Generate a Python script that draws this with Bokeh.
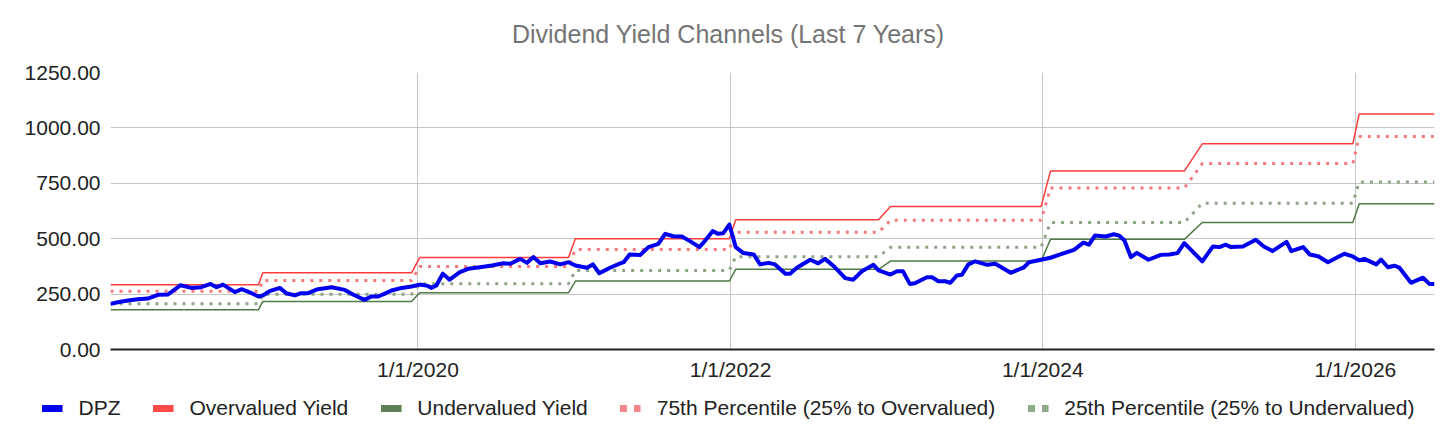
import pandas as pd
from bokeh.plotting import figure
from bokeh.layouts import column
from bokeh.models import (ColumnDataSource, Range1d, FixedTicker, NumeralTickFormatter,
                          CustomJSTickFormatter, Legend, LegendItem, Label)
from bokeh.embed import file_html
from bokeh.resources import INLINE

# ---------------- data ----------------
dpz_dates = [
    "2018-01-12", "2018-01-29", "2018-02-22", "2018-03-17", "2018-04-09", "2018-05-03",
    "2018-05-26", "2018-06-25", "2018-07-20", "2018-08-12", "2018-09-03", "2018-09-17",
    "2018-10-02", "2018-10-30", "2018-11-14", "2018-12-08", "2018-12-24",
    "2019-01-03", "2019-01-19", "2019-02-12", "2019-02-27", "2019-03-19", "2019-04-03",
    "2019-04-19", "2019-05-12", "2019-06-13", "2019-07-14", "2019-08-02", "2019-08-29",
    "2019-09-14", "2019-09-30", "2019-10-31", "2019-11-24", "2019-12-17",
    "2020-01-05", "2020-01-24", "2020-02-01", "2020-02-13", "2020-02-28", "2020-03-15",
    "2020-04-08", "2020-04-27", "2020-05-25", "2020-06-22", "2020-07-19", "2020-08-04",
    "2020-08-27", "2020-09-12", "2020-09-27", "2020-10-13", "2020-11-05", "2020-11-29",
    "2020-12-18",
    "2021-01-03", "2021-01-30", "2021-02-13", "2021-02-28", "2021-03-25", "2021-04-18",
    "2021-04-26", "2021-05-10", "2021-06-04", "2021-06-23", "2021-07-16", "2021-08-01",
    "2021-08-20", "2021-09-09", "2021-09-28", "2021-10-20", "2021-11-04", "2021-11-20",
    "2021-12-03", "2021-12-15", "2021-12-29",
    "2022-01-13", "2022-01-31", "2022-02-24", "2022-03-11", "2022-03-31", "2022-04-15",
    "2022-05-09", "2022-05-20", "2022-06-05", "2022-07-06", "2022-07-25", "2022-08-10",
    "2022-09-02", "2022-09-26", "2022-10-15", "2022-11-04", "2022-12-01", "2022-12-13",
    "2023-01-10", "2023-01-25", "2023-02-08", "2023-02-24", "2023-03-08", "2023-04-05",
    "2023-04-17", "2023-05-02", "2023-05-18", "2023-05-30", "2023-06-14", "2023-06-26",
    "2023-07-11", "2023-07-27", "2023-08-24", "2023-09-12", "2023-10-18", "2023-11-18",
    "2023-11-30", "2023-12-28",
    "2024-01-19", "2024-02-11", "2024-03-14", "2024-04-05", "2024-04-18", "2024-05-02",
    "2024-05-27", "2024-06-15", "2024-06-28", "2024-07-10", "2024-07-25", "2024-08-08",
    "2024-09-04", "2024-10-03", "2024-10-23", "2024-11-11", "2024-11-27",
    "2025-01-08", "2025-02-02", "2025-02-17", "2025-03-04", "2025-03-16", "2025-04-13",
    "2025-05-13", "2025-06-01", "2025-06-21", "2025-07-24", "2025-08-04", "2025-09-01",
    "2025-09-16", "2025-10-06", "2025-10-29", "2025-12-06", "2025-12-26",
    "2026-01-10", "2026-01-22", "2026-02-19", "2026-03-02", "2026-03-18", "2026-04-02",
    "2026-04-14", "2026-05-11", "2026-06-08", "2026-06-23", "2026-07-05",
]
dpz_values = [
    206, 213, 221, 227, 230, 247,
    248, 290, 278, 281, 296, 281,
    293, 259, 272, 254, 239,
    244, 263, 278, 254, 244, 254,
    254, 272, 281, 269, 248, 224,
    239, 239, 266, 278, 284,
    293, 287, 278, 289, 342, 315,
    349, 364, 371, 379, 389, 387,
    409, 391, 417, 389, 397, 384,
    394,
    379, 369, 384, 344, 369, 389,
    394, 429, 427, 462, 477, 522,
    511, 510, 489, 462, 495, 534,
    522, 525, 564,
    462, 435, 429, 384, 391, 384,
    342, 342, 369, 405, 389, 409,
    371, 322, 315, 353, 382, 357,
    338, 353, 353, 296, 299, 326,
    326, 308, 308, 301, 334, 337,
    384, 398, 382, 387, 346, 371,
    394, 405,
    414, 429, 450, 482, 473, 514,
    510, 520, 514, 492, 417, 436,
    405, 427, 429, 435, 480,
    398, 465, 462, 473, 462, 465,
    495, 465, 444, 486, 444, 462,
    429, 421, 394, 432, 420,
    402, 409, 384, 406, 371, 378,
    369, 301, 324, 296, 296,
]

band_years = [2018, 2019, 2020, 2021, 2022, 2023, 2024, 2025, 2026]
overvalued = [292, 346, 415, 500, 585, 645, 805, 928, 1063]
pct75 = [263, 311, 375, 451, 529, 583, 729, 839, 961]
pct25 = [207, 249, 297, 357, 419, 461, 573, 660, 756]
undervalued = [179, 217, 256, 309, 362, 399, 497, 573, 658]

x_tick_dates = ["2020-01-01", "2022-01-01", "2024-01-01", "2026-01-01"]
x_tick_labels = ["1/1/2020", "1/1/2022", "1/1/2024", "1/1/2026"]
y_ticks = [0, 250, 500, 750, 1000, 1250]

chart_title = "Dividend Yield Channels (Last 7 Years)"
series_names = ["DPZ", "Overvalued Yield", "Undervalued Yield",
                "75th Percentile (25% to Overvalued)", "25th Percentile (25% to Undervalued)"]

# ---------------- build ----------------
dates = pd.to_datetime(dpz_dates)
yrs = list(dates.year)


def band(vals):
    m = dict(zip(band_years, vals))
    return [m[y] for y in yrs]


src = ColumnDataSource(dict(
    date=dates, dpz=dpz_values, over=band(overvalued), under=band(undervalued),
    p75=band(pct75), p25=band(pct25)))

FONT = "Liberation Sans"
FS = "21px"
W = 1456


def strip(h):
    f = figure(width=W, height=h, output_backend="svg", toolbar_location=None,
               x_range=Range1d(0, W), y_range=Range1d(0, h),
               x_axis_location=None, y_axis_location=None,
               min_border_left=0, min_border_right=0, min_border_top=0, min_border_bottom=0)
    f.outline_line_color = None
    f.xgrid.visible = False
    f.ygrid.visible = False
    f.frame_align = False
    return f


# ---------------- title strip ----------------
tf = strip(60)
tf.add_layout(Label(x=W / 2, y=27, text=chart_title, text_align="center",
                    text_baseline="middle", text_font=FONT, text_font_size="25px",
                    text_color="#757575"))

# ---------------- main chart ----------------
p = figure(width=W, height=336, x_axis_type="datetime",
           output_backend="svg", toolbar_location=None,
           x_range=Range1d(dates[0], dates[-1]), y_range=Range1d(0, 1250),
           min_border_left=110, min_border_right=22, min_border_top=12, min_border_bottom=47)
p.frame_align = False
p.outline_line_color = None

C_DPZ = "#0000ee"
C_OVER = "#ff3b3b"
C_UNDER = "#507a46"
C_P75 = "#f47a7d"
C_P25 = "#8ea488"

p.line("date", "p25", source=src, line_color=C_P25, line_width=3, line_dash="3 6")
p.line("date", "p75", source=src, line_color=C_P75, line_width=3, line_dash="3 6")
p.line("date", "under", source=src, line_color=C_UNDER, line_width=1.5)
p.line("date", "over", source=src, line_color=C_OVER, line_width=1.5)
p.line("date", "dpz", source=src, line_color=C_DPZ, line_width=4, line_join="round")

tick_ms = [pd.Timestamp(d).value / 1e6 for d in x_tick_dates]
p.xaxis.ticker = FixedTicker(ticks=tick_ms)
p.xaxis.formatter = CustomJSTickFormatter(
    args=dict(tvals=tick_ms, tlabels=x_tick_labels),
    code="""
    for (let i = 0; i < tvals.length; i++) {
        if (Math.abs(tvals[i] - tick) < 1) { return tlabels[i]; }
    }
    return '';
    """)
p.xaxis.axis_line_color = "#222222"
p.xaxis.axis_line_width = 2
p.xaxis.major_tick_line_color = None
p.xaxis.minor_tick_line_color = None
p.xaxis.major_label_text_font = FONT
p.xaxis.major_label_text_font_size = FS
p.xaxis.major_label_text_color = "#222222"
p.xaxis.major_label_standoff = 2

p.yaxis.ticker = FixedTicker(ticks=y_ticks)
p.yaxis.formatter = NumeralTickFormatter(format="0.00")
p.yaxis.axis_line_color = None
p.yaxis.major_tick_line_color = None
p.yaxis.minor_tick_line_color = None
p.yaxis.major_label_text_font = FONT
p.yaxis.major_label_text_font_size = FS
p.yaxis.major_label_text_color = "#222222"
p.yaxis.major_label_standoff = 4

p.xgrid.grid_line_color = "#c6c6c6"
p.ygrid.grid_line_color = "#c6c6c6"
p.xgrid.grid_line_width = 1
p.ygrid.grid_line_width = 1

# ---------------- legend strip ----------------
lg = strip(44)
swatch_styles = [
    dict(line_color=C_DPZ, line_width=7),
    dict(line_color="#ff4a4a", line_width=7),
    dict(line_color="#5e7f53", line_width=7),
    dict(line_color="#f4868a", line_width=7, line_dash="7 7"),
    dict(line_color="#90a98a", line_width=7, line_dash="7 7"),
]
sw = [lg.line([-50, -40], [-50, -40], **st) for st in swatch_styles]

items = [LegendItem(label=n, renderers=[r]) for n, r in zip(series_names, sw)]
legend = Legend(items=items, orientation="horizontal", location="top_center",
                glyph_width=21, glyph_height=20, label_standoff=16, spacing=32,
                padding=0, margin=0, border_line_color=None, background_fill_alpha=0,
                label_text_font=FONT, label_text_font_size=FS, label_text_color="#222222",
                label_height=20)
lg.add_layout(legend, "center")

page = column(tf, p, lg, spacing=0)
open("out.html", "w").write(file_html(page, INLINE))
